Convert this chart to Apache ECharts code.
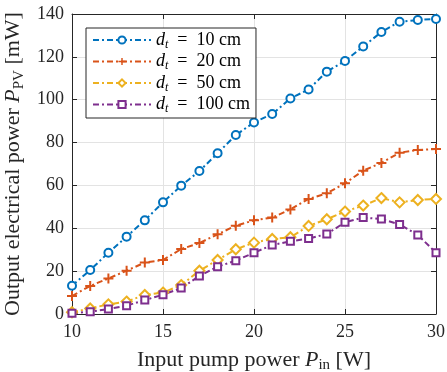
<!DOCTYPE html>
<html>
<head>
<meta charset="utf-8">
<script src="https://cdn.jsdelivr.net/npm/echarts@6/dist/echarts.min.js"></script>
<style>
  html, body { margin: 0; padding: 0; background: #fff; }
  #chart { width: 447px; height: 372px; }
</style>
</head>
<body>
<div id="chart"></div>
<script>
const pumpPower = [10, 11, 12, 13, 14, 15, 16, 17, 18, 19, 20, 21, 22, 23, 24, 25, 26, 27, 28, 29, 30]

const dist10 = [13.2, 20.5, 28.6, 36.1, 43.7, 52.1, 59.9, 66.7, 75.0, 83.5, 89.4, 93.3, 100.6, 104.8, 113.1, 118.1, 124.8, 131.6, 136.4, 137.2, 137.7]
const dist20 = [8.4, 13.1, 16.6, 20.2, 24.0, 25.2, 30.3, 33.1, 37.2, 41.2, 43.7, 45.0, 48.8, 53.7, 56.3, 61.0, 66.9, 70.5, 75.3, 76.5, 77.0]
const dist50 = [0.8, 2.6, 4.5, 5.8, 8.9, 10.0, 13.5, 20.2, 25.2, 30.2, 33.3, 35.0, 35.8, 41.1, 44.2, 47.8, 50.6, 54.1, 52.1, 53.2, 53.7]
const dist100 = [0.3, 1.1, 2.3, 3.9, 6.5, 9.0, 12.1, 17.7, 22.1, 24.9, 28.6, 32.2, 33.9, 35.2, 37.3, 42.8, 45.0, 44.3, 41.8, 36.9, 28.6]

const seriesNames = ['10', '20', '50', '100']
const seriesColors = ['#0072BD', '#D95319', '#EDB120', '#7E2F8E']
const seriesSymbols = [
  'emptyCircle',
  'path://M4,0H6V4H10V6H6V10H4V6H0V4H4Z',
  'emptyDiamond',
  'emptyRect'
]
const seriesSizes = [8, 10, 10, 7]
const seriesBorders = [2, 0, 2, 2]
const seriesData = [dist10, dist20, dist50, dist100]

const font = 'Liberation Serif'
const dashDot = [6, 3, 2, 3]
const ink = '#262626'

const chart = echarts.init(document.getElementById('chart'), null, { renderer: 'canvas' })

const series = seriesNames.map((name, i) => ({
  name: name,
  type: 'line',
  data: pumpPower.map((x, j) => [x, seriesData[i][j]]),
  symbol: seriesSymbols[i],
  symbolSize: seriesSizes[i],
  color: seriesColors[i],
  lineStyle: { width: 2, type: dashDot, color: seriesColors[i] },
  itemStyle: { color: seriesColors[i], borderWidth: seriesBorders[i], borderColor: seriesColors[i] },
  animation: false
}))

const gridLine = { show: true, lineStyle: { color: '#e3e3e3', width: 1 } }
const frameLine = { show: true, onZero: false, lineStyle: { color: ink, width: 1 } }
const tick = { show: true, inside: true, length: 5, lineStyle: { color: ink } }
const nameRich = {
  n: { fontFamily: font, fontSize: 22, color: ink },
  i: { fontFamily: font, fontStyle: 'italic', fontSize: 22, color: ink },
  s: { fontFamily: font, fontSize: 15, color: ink, verticalAlign: 'bottom', padding: [10, 0, 0, 0] }
}

chart.setOption({
  backgroundColor: '#fff',
  animation: false,
  grid: { left: 72, right: 11, top: 14, bottom: 58, containLabel: false, outerBoundsMode: 'none' },
  legend: {
    left: 86,
    top: 28,
    orient: 'vertical',
    itemWidth: 58,
    itemHeight: 9,
    itemGap: 2,
    padding: [3, 6, 3, 6],
    backgroundColor: '#fff',
    borderColor: ink,
    borderWidth: 1,
    borderRadius: 0,
    lineStyle: { width: 2, type: dashDot },
    formatter: (name) => '{i|d}{s|t}{n|  =  ' + name + ' cm}',
    textStyle: {
      rich: {
        i: { fontFamily: font, fontStyle: 'italic', fontSize: 18, color: '#000', lineHeight: 19 },
        s: { fontFamily: font, fontStyle: 'italic', fontSize: 12, color: '#000', verticalAlign: 'bottom', padding: [9, 0, 0, 0] },
        n: { fontFamily: font, fontSize: 18, color: '#000', lineHeight: 19 }
      }
    },
    data: seriesNames
  },
  xAxis: [
    {
      type: 'value',
      min: 10,
      max: 30,
      interval: 5,
      position: 'bottom',
      axisLine: frameLine,
      axisTick: tick,
      splitLine: gridLine,
      axisLabel: { fontFamily: font, fontSize: 18, color: ink, margin: 9 },
      name: '{n|Input pump power }{i|P}{s|in}{n| [W]}',
      nameLocation: 'middle',
      nameGap: 34,
      nameTextStyle: { rich: nameRich }
    },
    {
      type: 'value',
      min: 10,
      max: 30,
      interval: 5,
      position: 'top',
      axisLine: frameLine,
      axisTick: tick,
      splitLine: { show: false },
      axisLabel: { show: false }
    }
  ],
  yAxis: [
    {
      type: 'value',
      min: 0,
      max: 140,
      interval: 20,
      position: 'left',
      axisLine: frameLine,
      axisTick: tick,
      splitLine: gridLine,
      axisLabel: { fontFamily: font, fontSize: 18, color: ink, margin: 8 },
      name: '{n|Output electrical power }{i|P}{s|PV}{n| [mW]}',
      nameLocation: 'middle',
      nameGap: 44,
      nameTextStyle: { rich: nameRich }
    },
    {
      type: 'value',
      min: 0,
      max: 140,
      interval: 20,
      position: 'right',
      axisLine: frameLine,
      axisTick: tick,
      splitLine: { show: false },
      axisLabel: { show: false }
    }
  ],
  series: series
})
</script>
</body>
</html>
